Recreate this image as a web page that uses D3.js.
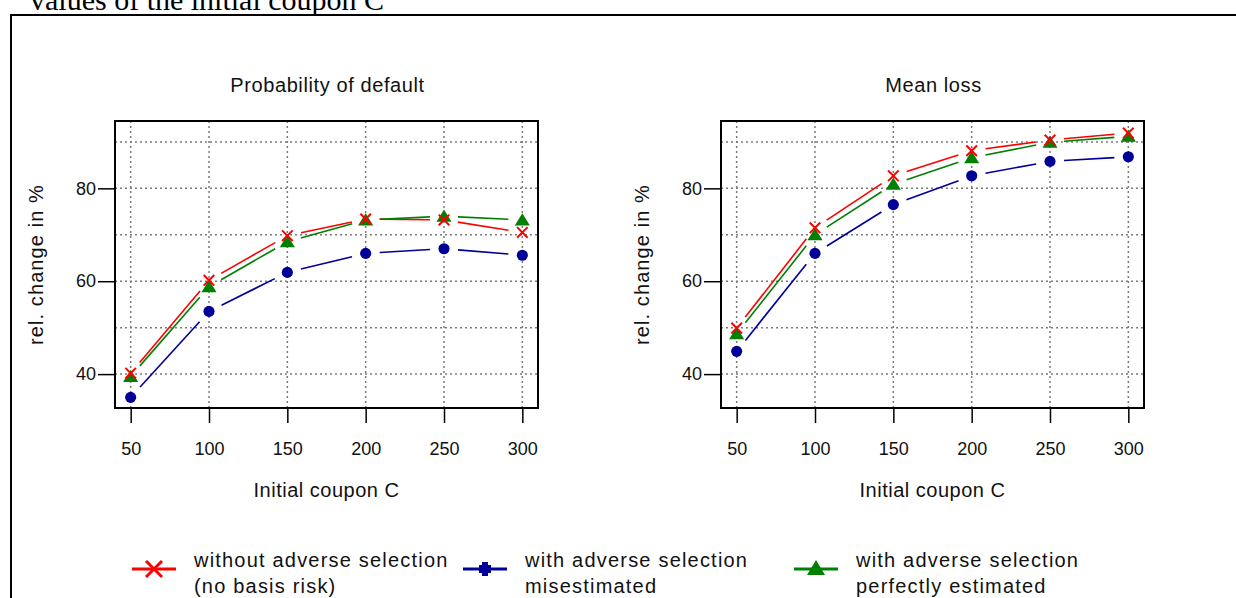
<!DOCTYPE html>
<html>
<head>
<meta charset="utf-8">
<script src="https://cdn.jsdelivr.net/npm/d3@7"></script>
<style>
  body { margin: 0; background: #fff; }
  svg { display: block; }
  text { font-family: Arial, "Liberation Sans", sans-serif; fill: #111; }
</style>
</head>
<body>
<svg width="1236" height="598"></svg>
<script>
// data
const coupons = [50, 100, 150, 200, 250, 300]
const pdWithout = [40.2, 60.2, 69.8, 73.4, 73.2, 70.5]
const pdMis = [35.0, 53.5, 61.9, 66.0, 67.0, 65.6]
const pdPerfect = [39.5, 58.8, 68.5, 73.2, 74.0, 73.2]
const mlWithout = [49.9, 71.5, 82.7, 88.1, 90.4, 91.9]
const mlMis = [44.9, 66.0, 76.5, 82.7, 85.8, 86.8]
const mlPerfect = [48.7, 70.0, 80.9, 86.6, 89.9, 91.2]
const yTicks = [40, 60, 80]
const yGrid = [40, 50, 60, 70, 80, 90]
const panelTitles = ["Probability of default", "Mean loss"]
const seriesNames = [
    ["without adverse selection", "(no basis risk)"],
    ["with adverse selection", "misestimated"],
    ["with adverse selection", "perfectly estimated"]
]

const RED = "#ff0000", BLUE = "#000099", GREEN = "#008000"

document.addEventListener('DOMContentLoaded', () => {
    const svg = d3.select("svg")

    // caption line cut off at the top and the surrounding frame
    svg.append("text")
        .attr("x", 30).attr("y", 10)
        .style("font-family", "'Liberation Serif', 'Times New Roman', serif")
        .style("font-size", "30px")
        .style("fill", "#000")
        .text("values of the initial coupon C")
    svg.append("rect")
        .attr("x", 11).attr("y", 15).attr("width", 1300).attr("height", 700)
        .attr("fill", "none").attr("stroke", "#000").attr("stroke-width", 2)

    drawPanel(svg, 115, 538, panelTitles[0], [pdWithout, pdMis, pdPerfect])
    drawPanel(svg, 721, 1144, panelTitles[1], [mlWithout, mlMis, mlPerfect])

    drawLegend(svg)
})

function drawMarker(g, kind, cx, cy, s) {
    if (kind === 0) {
        g.append("path")
            .attr("d", `M${cx - s},${cy - s}L${cx + s},${cy + s}M${cx - s},${cy + s}L${cx + s},${cy - s}`)
            .attr("stroke", RED).attr("stroke-width", 2).attr("fill", "none")
    } else if (kind === 1) {
        g.append("circle").attr("cx", cx).attr("cy", cy).attr("r", s * 1.05).attr("fill", BLUE)
    } else {
        const h = s * 2.3
        g.append("path")
            .attr("d", `M${cx},${cy - h * 0.55}L${cx + h * 0.62},${cy + h * 0.45}L${cx - h * 0.62},${cy + h * 0.45}Z`)
            .attr("fill", GREEN)
    }
}

function drawPanel(svg, left, right, title, series) {
    const top = 121, bottom = 408
    const x = d3.scaleLinear().domain([40, 310]).range([left, right])
    const y = d3.scaleLinear().domain([32.7, 94.5]).range([bottom, top])
    const g = svg.append("g")

    // grid
    g.selectAll(".vg").data(coupons).enter().append("line")
        .attr("x1", d => x(d)).attr("x2", d => x(d))
        .attr("y1", top).attr("y2", bottom)
        .attr("stroke", "#7a7a7a").attr("stroke-width", 1.5).attr("stroke-dasharray", "2,3")
    g.selectAll(".hg").data(yGrid).enter().append("line")
        .attr("x1", left).attr("x2", right)
        .attr("y1", d => y(d)).attr("y2", d => y(d))
        .attr("stroke", "#7a7a7a").attr("stroke-width", 1.5).attr("stroke-dasharray", "2,3")

    // lines with gaps round the points (type "b")
    const colors = [RED, BLUE, GREEN]
    const gap = 14
    series.forEach((vals, k) => {
        const pts = vals.map((v, i) => [x(coupons[i]), y(v)])
        for (let i = 0; i < pts.length - 1; i++) {
            const [x0, y0] = pts[i], [x1, y1] = pts[i + 1]
            const len = Math.hypot(x1 - x0, y1 - y0)
            if (len <= 2 * gap) continue
            const ux = (x1 - x0) / len, uy = (y1 - y0) / len
            g.append("line")
                .attr("x1", x0 + ux * gap).attr("y1", y0 + uy * gap)
                .attr("x2", x1 - ux * gap).attr("y2", y1 - uy * gap)
                .attr("stroke", colors[k]).attr("stroke-width", 1.6)
        }
    })
    // markers: blue first, then green, red on top
    ;[1, 2, 0].forEach(k => {
        series[k].forEach((v, i) => drawMarker(g, k, x(coupons[i]), y(v), 5.3))
    })

    // box
    g.append("rect")
        .attr("x", left).attr("y", top).attr("width", right - left).attr("height", bottom - top)
        .attr("fill", "none").attr("stroke", "#000").attr("stroke-width", 2)

    // axes
    const ya = g.append("g").attr("transform", `translate(${left},0)`)
        .call(d3.axisLeft(y).tickValues(yTicks).tickSize(17).tickPadding(2))
    const xa = g.append("g").attr("transform", `translate(0,${bottom})`)
        .call(d3.axisBottom(x).tickValues(coupons).tickSize(15).tickPadding(19))
    ;[ya, xa].forEach(a => {
        a.select(".domain").remove()
        a.selectAll(".tick line").attr("stroke", "#000").attr("stroke-width", 1.5)
        a.selectAll(".tick text").style("font-size", "18px")
            .style("font-family", "Arial, 'Liberation Sans', sans-serif").style("fill", "#111")
    })

    const cx = (left + right) / 2
    g.append("text").attr("x", cx + 1).attr("y", 92).attr("text-anchor", "middle")
        .style("font-size", "20px").style("letter-spacing", "0.6px").text(title)
    g.append("text").attr("x", cx).attr("y", 497).attr("text-anchor", "middle")
        .style("font-size", "20px").style("letter-spacing", "0.5px").text("Initial coupon C")
    g.append("text")
        .attr("transform", `translate(${left - 72},${(top + bottom) / 2}) rotate(-90)`)
        .attr("text-anchor", "middle")
        .style("font-size", "20px").style("letter-spacing", "1.1px").text("rel. change in %")
}

function drawLegend(svg) {
    const colors = [RED, BLUE, GREEN]
    const lineX = [132, 463, 794]
    const g = svg.append("g")
    seriesNames.forEach((lines, k) => {
        const x0 = lineX[k], yl = 569
        g.append("line").attr("x1", x0).attr("x2", x0 + 44).attr("y1", yl).attr("y2", yl)
            .attr("stroke", colors[k]).attr("stroke-width", 3)
        if (k === 0) {
            drawMarker(g, 0, x0 + 22, yl, 8)
            g.select("path:last-child").attr("stroke-width", 3)
        } else if (k === 1) {
            g.append("path")
                .attr("d", `M${x0 + 19},${yl - 7}h6v3h3v8h-3v3h-6v-3h-3v-8h3Z`)
                .attr("fill", BLUE)
        } else {
            g.append("path")
                .attr("d", `M${x0 + 22},${yl - 9}L${x0 + 31},${yl + 6}L${x0 + 13},${yl + 6}Z`)
                .attr("fill", GREEN)
        }
        lines.forEach((t, j) => {
            g.append("text").attr("x", x0 + 62).attr("y", 567 + j * 26)
                .style("font-size", "20px").style("letter-spacing", "1.2px").text(t)
        })
    })
}
</script>
</body>
</html>
